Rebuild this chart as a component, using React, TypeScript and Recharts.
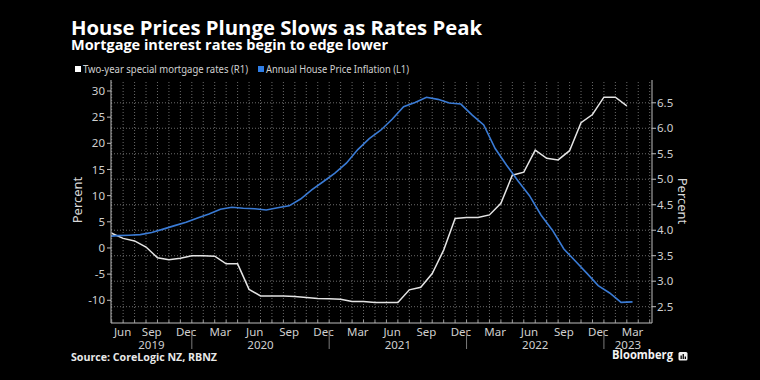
import React from "react";
import { LineChart, Line, XAxis, YAxis, ReferenceLine } from "recharts";

// months are counted from Jan 2019 (0 = Jan 2019, 12 = Jan 2020 ...)
const firstInflationMonth = 4; // May 2019
// Annual house price inflation, % (left axis), May 2019 .. Mar 2023
const houseInflation = [
  2.2, 2.35, 2.43, 2.55, 2.95, 3.6, 4.27, 4.9, 5.74, 6.5,
  7.4, 7.78, 7.59, 7.5, 7.27, 7.67, 8.05, 9.35, 11.15, 12.7,
  14.3, 16.2, 18.8, 20.9, 22.5, 24.6, 27.0, 27.8, 28.8, 28.4,
  27.7, 27.5, 25.4, 23.5, 19.0, 15.8, 12.8, 10.0, 6.3, 3.4,
  -0.2, -2.5, -4.8, -7.2, -8.6, -10.4, -10.3,
];

const firstRateMonth = 4.5; // end of May 2019
// Two-year special mortgage rate, % (right axis)
const mortgageRates = [
  3.94, 3.84, 3.79, 3.67, 3.46, 3.42, 3.45, 3.5, 3.5, 3.49,
  3.34, 3.34, 2.84, 2.71, 2.71, 2.71, 2.7, 2.68, 2.66, 2.655,
  2.645, 2.6, 2.6, 2.58, 2.58, 2.58, 2.83, 2.88, 3.15, 3.61,
  4.23, 4.25, 4.25, 4.3, 4.53, 5.08, 5.14, 5.57, 5.41, 5.38,
  5.56, 6.11, 6.27, 6.61, 6.61, 6.44,
];

const monthNames = ["Jan", "Feb", "Mar", "Apr", "May", "Jun", "Jul", "Aug", "Sep", "Oct", "Nov", "Dec"];
const years = ["2019", "2020", "2021", "2022", "2023"];
const leftTicks = [-10, -5, 0, 5, 10, 15, 20, 25, 30];
const rightTicks = [2.5, 3, 3.5, 4, 4.5, 5, 5.5, 6, 6.5];

const xDomain: [number, number] = [4.44, 51.7];
const leftDomain: [number, number] = [-14.34, 32.1];
const rightDomain: [number, number] = [2.18, 6.947];

const blueData = houseInflation.map((v, i) => ({ t: firstInflationMonth + i, v }));
const whiteData = mortgageRates.map((v, i) => ({ t: firstRateMonth + i, v }));

// quarterly labels Jun 2019 .. Mar 2023
const labelMonths: number[] = [];
for (let m = 5; m <= 50; m += 3) labelMonths.push(m);
const monthBoundaries: number[] = [];
for (let b = 4.5; b < xDomain[1]; b += 1) monthBoundaries.push(b);
const monthTicks = [...monthBoundaries, ...labelMonths].sort((a, b) => a - b);

const yearBoundaries = years.slice(1).map((_, i) => 12 * (i + 1) - 0.5);
const yearLabelAt = new Map<number, string>();
years.forEach((y, i) => {
  const s = Math.max(12 * i - 0.5, xDomain[0]);
  const e = Math.min(12 * i + 11.5, xDomain[1]);
  yearLabelAt.set((s + e) / 2, y);
});
const yearTicks = [...yearBoundaries, ...yearLabelAt.keys()].sort((a, b) => a - b);

const tickFont = "'Noto Sans', sans-serif";
const tickColor = "#cfcfcf";
const gridColor = "#6a6a6a";

const MonthTick = ({ x, y, payload }: any) => {
  const v = payload.value;
  if (v % 1 !== 0) {
    return <line x1={x} x2={x} y1={y} y2={y - 3} stroke="#9a9a9a" />;
  }
  const first = v === labelMonths[0];
  return (
    <text
      x={first ? x - 3.5 : x}
      y={y + 13}
      textAnchor={first ? "start" : "middle"}
      fill={tickColor}
      fontSize={11.5}
      fontFamily={tickFont}
    >
      {monthNames[v % 12]}
    </text>
  );
};

const YearTick = ({ x, y, payload }: any) => {
  const label = yearLabelAt.get(payload.value);
  if (!label) {
    return <line x1={x} x2={x} y1={y - 7} y2={y + 12} stroke="#7a7a7a" />;
  }
  return (
    <text x={x} y={y + 11.5} textAnchor="middle" fill={tickColor} fontSize={11.5} fontFamily={tickFont}>
      {label}
    </text>
  );
};

export default function App() {
  return (
    <div style={{ position: "absolute", left: 0, top: 0, width: 760, height: 380, background: "#000", overflow: "hidden" }}>
      <div style={{ position: "absolute", left: 0, top: 0 }}>
        <LineChart width={760} height={380} margin={{ top: 80, right: 68, bottom: 13, left: 71 }}>
          <XAxis
            xAxisId="m"
            type="number"
            dataKey="t"
            domain={xDomain}
            allowDataOverflow
            ticks={monthTicks}
            interval={0}
            tick={<MonthTick />}
            tickLine={false}
            tickSize={0}
            tickMargin={0}
            height={14}
            axisLine={{ stroke: "#bdbdbd" }}
          />
          <XAxis
            xAxisId="y"
            type="number"
            dataKey="t"
            domain={xDomain}
            allowDataOverflow
            ticks={yearTicks}
            interval={0}
            tick={<YearTick />}
            tickLine={false}
            tickSize={0}
            tickMargin={0}
            height={30}
            axisLine={false}
          />
          <YAxis
            yAxisId="L"
            orientation="left"
            domain={leftDomain}
            allowDataOverflow
            ticks={leftTicks}
            interval={0}
            width={40}
            tickSize={4}
            tickMargin={2}
            axisLine={{ stroke: "#bdbdbd" }}
            tickLine={{ stroke: "#bdbdbd" }}
            tick={{ fill: tickColor, fontSize: 11.5, fontFamily: tickFont }}
          />
          <YAxis
            yAxisId="R"
            orientation="right"
            domain={rightDomain}
            allowDataOverflow
            ticks={rightTicks}
            interval={0}
            width={40}
            tickSize={4}
            tickMargin={1}
            tickFormatter={(v: number) => v.toFixed(1)}
            axisLine={{ stroke: "#bdbdbd" }}
            tickLine={{ stroke: "#bdbdbd" }}
            tick={{ fill: tickColor, fontSize: 11.5, fontFamily: tickFont }}
          />
          {monthBoundaries.map((b) => (
            <ReferenceLine key={"v" + b} xAxisId="m" yAxisId="R" x={b} stroke={gridColor} strokeDasharray="1 2" />
          ))}
          {rightTicks.map((r) => (
            <ReferenceLine key={"h" + r} xAxisId="m" yAxisId="R" y={r} stroke={gridColor} strokeDasharray="1 2" />
          ))}
          <Line
            xAxisId="m"
            yAxisId="R"
            data={whiteData}
            dataKey="v"
            type="linear"
            stroke="#e4e4e4"
            strokeWidth={1.5}
            dot={false}
            isAnimationActive={false}
          />
          <Line
            xAxisId="m"
            yAxisId="L"
            data={blueData}
            dataKey="v"
            type="linear"
            stroke="#3a7bd5"
            strokeWidth={1.6}
            dot={false}
            isAnimationActive={false}
          />
        </LineChart>
      </div>
      <svg width={760} height={380} style={{ position: "absolute", left: 0, top: 0, pointerEvents: "none" }}>
        <text x={71} y={34.5} fill="#fff" fontSize={19} fontWeight={700} fontFamily="'Open Sans', sans-serif" textLength={411} lengthAdjust="spacingAndGlyphs">
          House Prices Plunge Slows as Rates Peak
        </text>
        <text x={71} y={50} fill="#fff" fontSize={14} fontWeight={700} fontFamily="'Open Sans', sans-serif" textLength={317} lengthAdjust="spacingAndGlyphs">
          Mortgage interest rates begin to edge lower
        </text>
        <rect x={75} y={66} width={6} height={6} fill="#ffffff" />
        <text x={83} y={72.5} fill="#d0d0d0" fontSize={10} fontFamily={tickFont} textLength={165} lengthAdjust="spacingAndGlyphs">
          Two-year special mortgage rates (R1)
        </text>
        <rect x={258} y={66} width={6} height={6} fill="#2f7ee6" />
        <text x={266} y={72.5} fill="#d0d0d0" fontSize={10} fontFamily={tickFont} textLength={143} lengthAdjust="spacingAndGlyphs">
          Annual House Price Inflation (L1)
        </text>
        <text x={0} y={0} transform="translate(81.5,200) rotate(-90)" textAnchor="middle" fill="#d8d8d8" fontSize={13} fontFamily={tickFont}>
          Percent
        </text>
        <text x={0} y={0} transform="translate(677.5,201) rotate(90)" textAnchor="middle" fill="#d8d8d8" fontSize={13} fontFamily={tickFont}>
          Percent
        </text>
        <text x={71} y={361} fill="#e8e8e8" fontSize={10} fontWeight={700} fontFamily="'Open Sans', sans-serif" textLength={146} lengthAdjust="spacingAndGlyphs">
          Source: CoreLogic NZ, RBNZ
        </text>
        <text x={612} y={359} fill="#f2f2f2" fontSize={13} fontWeight={700} fontFamily="'Open Sans', sans-serif" textLength={61} lengthAdjust="spacingAndGlyphs">
          Bloomberg
        </text>
        <rect x={678.5} y={352} width={9} height={8.5} rx={1.5} fill="#f2f2f2" />
        <rect x={680.5} y={355.5} width={1.3} height={3.5} fill="#000" />
        <rect x={682.6} y={354} width={1.3} height={5} fill="#000" />
        <rect x={684.7} y={356.5} width={1.3} height={2.5} fill="#000" />
      </svg>
    </div>
  );
}
